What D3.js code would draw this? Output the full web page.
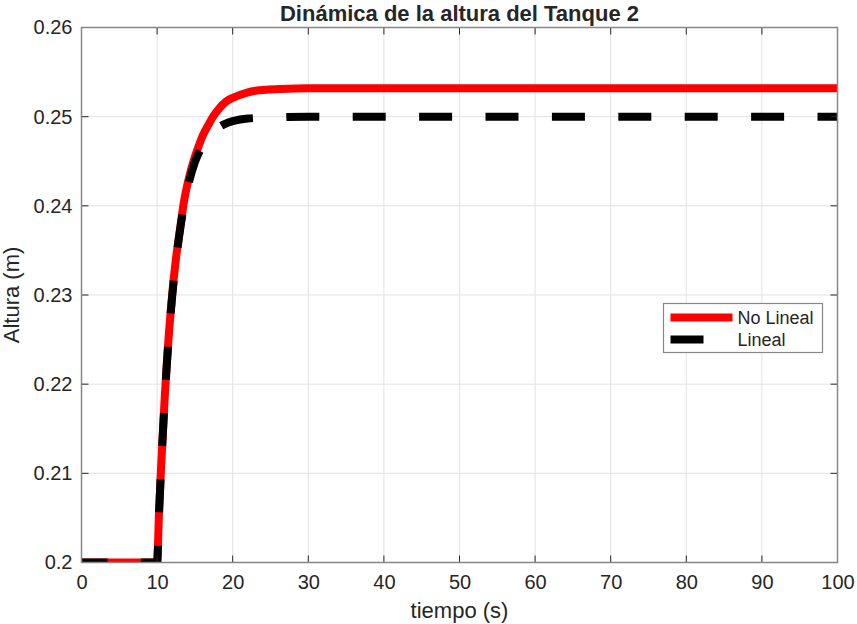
<!DOCTYPE html>
<html>
<head>
<meta charset="utf-8">
<script src="https://cdn.jsdelivr.net/npm/d3@7"></script>
<style>
  html, body { margin: 0; padding: 0; background: #fff; }
  svg text { font-family: "Liberation Sans", Arial, Helvetica, sans-serif; fill: #262626; }
</style>
</head>
<body>
<div id="chart"></div>
<script>
// ===== datos =====
const tiempoNL = [0, 10, 10.25, 10.5, 11, 11.25, 12, 12.4, 13, 13.5, 14.2, 15, 15.5, 16, 17, 17.4, 18, 19.3, 20, 21.9, 23, 26.3, 30, 40, 60, 100];
const alturaNL = [0.2, 0.2, 0.2055, 0.2102, 0.2184, 0.2219, 0.2301, 0.2334, 0.2372, 0.2402, 0.2431, 0.2455, 0.2467, 0.2478, 0.2494, 0.25, 0.2507, 0.2518, 0.2521, 0.2527, 0.2529, 0.2531, 0.2532, 0.2532, 0.2532, 0.2532];

const tiempoL = [0, 10, 10.25, 10.5, 11, 11.25, 12, 12.4, 13, 13.5, 14.2, 15, 16, 17, 18, 19, 20, 22, 25, 30, 100];
const alturaL = [0.2, 0.2, 0.2054, 0.2101, 0.2182, 0.2217, 0.2299, 0.2332, 0.2371, 0.2398, 0.2426, 0.2449, 0.2467, 0.2479, 0.2487, 0.2492, 0.2495, 0.2498, 0.2499, 0.25, 0.25];

const xTicks = [0, 10, 20, 30, 40, 50, 60, 70, 80, 90, 100];
const yTicks = [0.2, 0.21, 0.22, 0.23, 0.24, 0.25, 0.26];
const yTickLabels = ["0.2", "0.21", "0.22", "0.23", "0.24", "0.25", "0.26"];
const seriesNames = ["No Lineal", "Lineal"];

(function () {
    const W = 857, H = 624;
    const M = { top: 27.5, right: 19.5, bottom: 61.5, left: 81.5 };
    const innerW = W - M.left - M.right;
    const innerH = H - M.top - M.bottom;
    const TICK = 7;

    const svg = d3.select('#chart').append('svg')
        .attr('width', W).attr('height', H);

    const x = d3.scaleLinear().domain([0, 100]).range([0, innerW]);
    const y = d3.scaleLinear().domain([0.2, 0.26]).range([innerH, 0]);

    const g = svg.append('g').attr('transform', `translate(${M.left},${M.top})`);

    g.append('clipPath').attr('id', 'clip')
        .append('rect').attr('width', innerW).attr('height', innerH);

    // rejilla
    g.append('g').selectAll('line.gx').data(xTicks).join('line')
        .attr('x1', d => x(d)).attr('x2', d => x(d))
        .attr('y1', 0).attr('y2', innerH)
        .attr('stroke', '#e2e2e2').attr('stroke-width', 1);
    g.append('g').selectAll('line.gy').data(yTicks).join('line')
        .attr('x1', 0).attr('x2', innerW)
        .attr('y1', d => y(d)).attr('y2', d => y(d))
        .attr('stroke', '#e2e2e2').attr('stroke-width', 1);

    // curvas
    const line = d3.line()
        .x(d => x(d[0])).y(d => y(d[1]))
        .curve(d3.curveMonotoneX);

    const plot = g.append('g').attr('clip-path', 'url(#clip)');
    plot.append('path')
        .datum(d3.zip(tiempoNL, alturaNL))
        .attr('d', line)
        .attr('fill', 'none')
        .attr('stroke', '#ff0000')
        .attr('stroke-width', 8);
    plot.append('path')
        .datum(d3.zip(tiempoL, alturaL))
        .attr('d', line)
        .attr('fill', 'none')
        .attr('stroke', '#000000')
        .attr('stroke-width', 8)
        .attr('stroke-dasharray', '33 33.4')
        .attr('stroke-dashoffset', 7);

    // ejes (estilo caja con ticks hacia dentro)
    const axisColor = '#262626';
    const xAxis = d3.axisBottom(x).tickValues(xTicks).tickSize(0).tickPadding(12).tickFormat(d3.format('d'));
    const gx = g.append('g').attr('transform', `translate(0,${innerH})`).call(xAxis);
    gx.select('.domain').remove();
    gx.selectAll('text').style('font-size', '20px').attr('fill', '#262626');

    const yAxis = d3.axisLeft(y).tickValues(yTicks).tickSize(0).tickPadding(9)
        .tickFormat((d, i) => yTickLabels[i]);
    const gy = g.append('g').call(yAxis);
    gy.select('.domain').remove();
    gy.selectAll('text').style('font-size', '20px').attr('fill', '#262626');

    // marcas
    const ticks = g.append('g').attr('stroke', axisColor).attr('stroke-width', 1);
    xTicks.forEach(t => {
        ticks.append('line').attr('x1', x(t)).attr('x2', x(t)).attr('y1', innerH).attr('y2', innerH - TICK);
        ticks.append('line').attr('x1', x(t)).attr('x2', x(t)).attr('y1', 0).attr('y2', TICK);
    });
    yTicks.forEach(t => {
        ticks.append('line').attr('x1', 0).attr('x2', TICK).attr('y1', y(t)).attr('y2', y(t));
        ticks.append('line').attr('x1', innerW).attr('x2', innerW - TICK).attr('y1', y(t)).attr('y2', y(t));
    });

    g.append('rect')
        .attr('width', innerW).attr('height', innerH)
        .attr('fill', 'none').attr('stroke', '#878787').attr('stroke-width', 1.5);

    // textos
    svg.append('text')
        .attr('x', M.left + innerW / 2).attr('y', 21)
        .attr('text-anchor', 'middle')
        .style('font-size', '22px').style('font-weight', 'bold')
        .text('Dinámica de la altura del Tanque 2');

    svg.append('text')
        .attr('x', M.left + innerW / 2).attr('y', 618)
        .attr('text-anchor', 'middle')
        .style('font-size', '22px')
        .text('tiempo (s)');

    svg.append('text')
        .attr('transform', `translate(19,${M.top + innerH / 2}) rotate(-90)`)
        .attr('text-anchor', 'middle')
        .style('font-size', '22px')
        .text('Altura (m)');

    // leyenda
    const leg = svg.append('g').attr('transform', 'translate(663.5,303.5)');
    leg.append('rect').attr('width', 159).attr('height', 49)
        .attr('fill', '#fff').attr('stroke', '#878787').attr('stroke-width', 1.2);
    leg.append('line').attr('x1', 7).attr('x2', 69).attr('y1', 14).attr('y2', 14)
        .attr('stroke', '#ff0000').attr('stroke-width', 8);
    leg.append('line').attr('x1', 7).attr('x2', 69).attr('y1', 36).attr('y2', 36)
        .attr('stroke', '#000').attr('stroke-width', 8).attr('stroke-dasharray', '33 33.4');
    leg.selectAll('text.lg').data(seriesNames).join('text')
        .attr('x', 74).attr('y', (d, i) => 14 + i * 22)
        .attr('dy', '0.35em')
        .style('font-size', '18px')
        .text(d => d);
})();
</script>
</body>
</html>
